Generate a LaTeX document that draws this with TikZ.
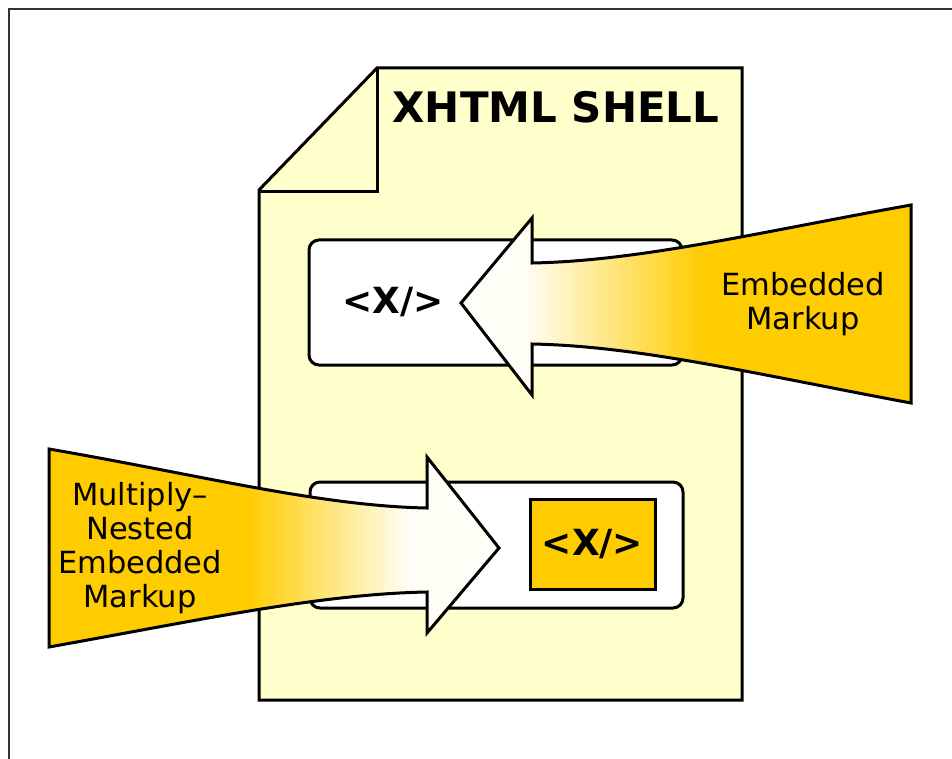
\documentclass[tikz,border=0pt]{standalone}
\usepackage{fontspec}
\setmainfont{DejaVu Sans}

\definecolor{shellyellow}{HTML}{FFFFCC}
\definecolor{markupgold}{HTML}{FFCC00}
\definecolor{headcream}{HTML}{FFFEF6}

% fades for the two markup arrows (path spans 25bp..75bp)
\pgfdeclarehorizontalshading{fadeleft}{100bp}{color(0bp)=(headcream); color(32bp)=(headcream); color(52bp)=(markupgold); color(100bp)=(markupgold)}
\pgfdeclarehorizontalshading{faderight}{100bp}{color(0bp)=(markupgold); color(47bp)=(markupgold); color(65bp)=(headcream); color(100bp)=(headcream)}

\begin{document}
\begin{tikzpicture}[x=1pt,y=-1pt,
	outline/.style={line width=3pt, line join=miter},
	codebox/.style={draw, line width=3pt, fill=white, rounded corners=10pt, inner sep=0pt},
	tag/.style={font=\bfseries\fontsize{36}{38}\selectfont},
	caption/.style={font=\fontsize{30.5}{34}\selectfont, align=center}]
	\useasboundingbox (0,0) rectangle (952,759);
	\draw[line width=2pt, black!80] (952,9) -- (9,9) -- (9,759);
	
	% the shell document
	\draw[outline, fill=shellyellow] (259,190) -- (377,68) -- (742,68) -- (742,700) -- (259,700) -- cycle;
	\draw[outline] (259,192) -- (377,192) -- (377,68);
	\node[font=\bfseries\fontsize{42}{44}\selectfont] (title) at (556,107) {XHTML SHELL};
	
	\node[codebox, minimum width=373pt, minimum height=125pt] (upper) at (495.5,302.5) {};
	\node[codebox, minimum width=373pt, minimum height=126pt] (lower) at (496.5,545) {};
	\node[draw, line width=3pt, fill=markupgold, minimum width=125pt, minimum height=90pt] (inner) at (592.5,544) {};
	\node[tag] (uptag) at (393,302) {<X/>};
	\node[tag] (innertag) at (inner) {<X/>};
	
	% markup arrows
	\coordinate (uptip) at (461,303);
	\coordinate (lowtip) at (499,548);
	\shadedraw[outline, shading=fadeleft] (uptip) -- (532,218) -- (532,263) .. controls (640,261) and (760,232) .. (911,205) -- (911,403) .. controls (760,375) and (640,346) .. (532,344) -- (532,395) -- cycle;
	\shadedraw[outline, shading=faderight] (lowtip) -- (427,633) -- (427,592) .. controls (320,594) and (200,620) .. (49,647) -- (49,449) .. controls (200,475) and (320,506) .. (427,508) -- (427,457) -- cycle;
	
	\node[caption] (embedlabel) at (803,304) {Embedded\\Markup};
	\node[caption] (nestlabel) at (140,548) {Multiply–\\Nested\\Embedded\\Markup};
\end{tikzpicture}
\end{document}
